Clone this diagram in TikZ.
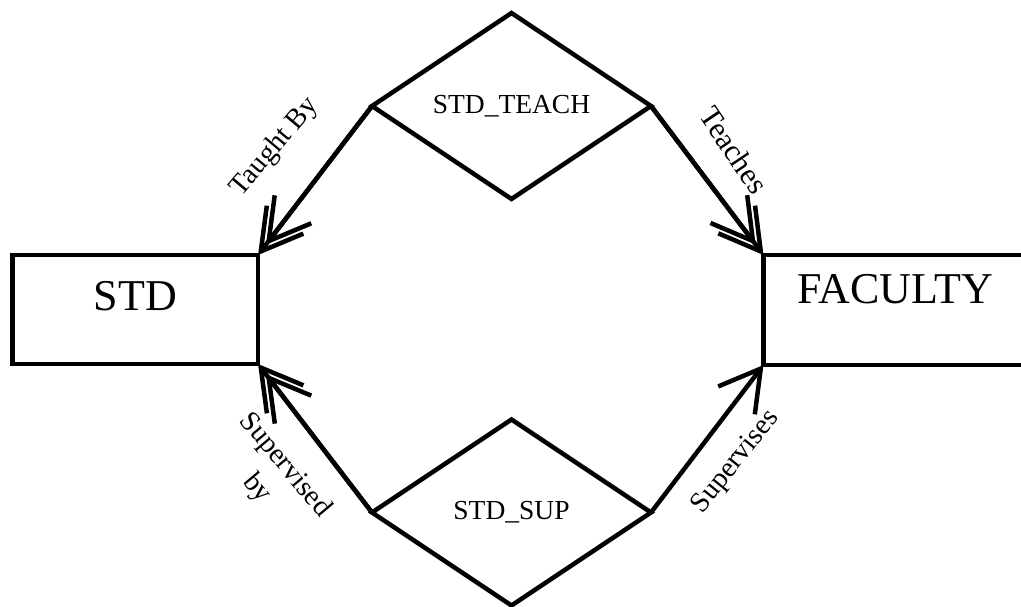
\documentclass[tikz,border=0pt]{standalone}
\usepackage{fontspec}
\setmainfont{Liberation Serif}
\usetikzlibrary{shapes.geometric,arrows.meta}
\begin{document}
\begin{tikzpicture}[x=1pt,y=-1pt,
  ent/.style={draw, line width=4.5pt, rectangle, outer sep=0pt, inner sep=0pt, font=\fontsize{44}{50}\selectfont},
  rel/.style={draw, line width=4.5pt, diamond, outer sep=0pt, inner sep=0pt, minimum width=279pt, minimum height=186pt, font=\fontsize{27.5}{32}\selectfont},
  conn/.style={line width=4.5pt, -{Straight Barb[length=40pt,width=46pt]}},
  conntwo/.style={conn, shorten >=13pt},
  lbl/.style={font=\fontsize{28.5}{36}\selectfont, inner sep=0pt, align=center}]
\useasboundingbox (0,0) rectangle (1021,606);
\clip (0,0) rectangle (1021,606);
\node[ent, minimum width=245.5pt, minimum height=109pt, text height=29pt, text depth=28pt] (std) at (135.3,309.5) {STD};
\node[ent, minimum width=263pt, minimum height=110pt, text height=28pt, text depth=42pt] (fac) at (895,310) {FACULTY};
\node[rel] (teach) at (511.5,106) {STD\_TEACH};
\node[rel] (sup) at (511.5,512.5) {STD\_SUP};
\draw[conn] (teach.west) -- (std.north east);
\draw[conntwo] (teach.west) -- (std.north east);
\draw[conn] (teach.east) -- (fac.north west);
\draw[conntwo] (teach.east) -- (fac.north west);
\draw[conn] (sup.west) -- (std.south east);
\draw[conntwo] (sup.west) -- (std.south east);
\draw[conn] (sup.east) -- (fac.south west);
\node[lbl, rotate=50] (lt) at (275,147) {Taught By};
\node[lbl, rotate=-56, font=\fontsize{30.5}{36}\selectfont] (lte) at (734,150) {Teaches};
\node[lbl, rotate=-50] (lsb) at (271,477) {Supervised\\by};
\node[lbl, rotate=51] (lsp) at (736,462) {Supervises};
\end{tikzpicture}
\end{document}
